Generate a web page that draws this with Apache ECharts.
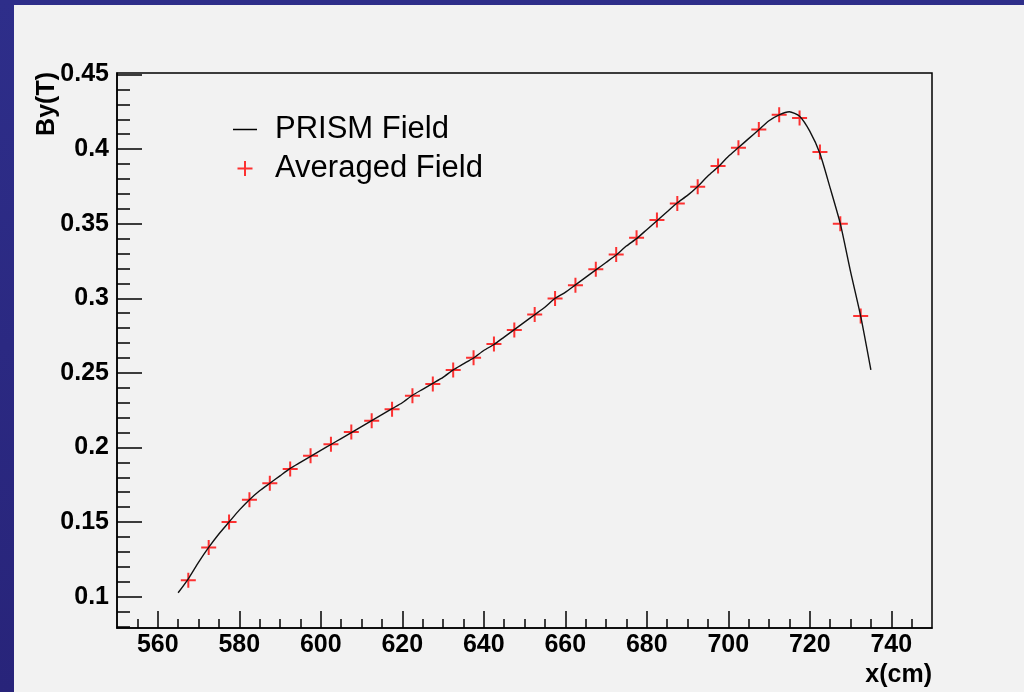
<!DOCTYPE html>
<html>
<head>
<meta charset="utf-8">
<title>PRISM Field</title>
<script src="https://cdn.jsdelivr.net/npm/echarts@6/dist/echarts.min.js"></script>
<style>
  html, body { margin: 0; padding: 0; width: 1024px; height: 692px; overflow: hidden; }
  body { background: linear-gradient(#2e2e8a, #28247a); position: relative; }
  #chart { position: absolute; left: 14px; top: 5px; width: 1010px; height: 687px; }
</style>
</head>
<body>
<div id="chart"></div>
<script>
// Field map along x: continuous PRISM field (By in tesla vs x in cm)
const fieldX = [565, 567.5, 570, 572.5, 575, 577.5, 580, 582.5, 585, 587.5, 590, 592.5, 595, 597.5,
  600, 602.5, 605, 607.5, 610, 612.5, 615, 617.5, 620, 622.5, 625, 627.5, 630, 632.5, 635, 637.5,
  640, 642.5, 645, 647.5, 650, 652.5, 655, 657.5, 660, 662.5, 665, 667.5, 670, 672.5, 675, 677.5,
  680, 682.5, 685, 687.5, 690, 692.5, 695, 697.5, 700, 702.5, 705, 707.5, 710, 712.5, 715, 717.5,
  720, 722.5, 725, 727.5, 730, 732.5, 735];
const fieldBy = [0.1026, 0.112, 0.123, 0.133, 0.142, 0.150, 0.158, 0.165, 0.171, 0.176, 0.181, 0.186, 0.190, 0.194,
  0.198, 0.202, 0.206, 0.210, 0.214, 0.218, 0.222, 0.226, 0.230, 0.235, 0.239, 0.243, 0.247, 0.252, 0.256, 0.260,
  0.265, 0.269, 0.274, 0.279, 0.284, 0.289, 0.294, 0.300, 0.304, 0.309, 0.314, 0.319, 0.324, 0.329, 0.335, 0.340,
  0.346, 0.352, 0.358, 0.364, 0.369, 0.375, 0.382, 0.388, 0.395, 0.401, 0.407, 0.413, 0.419, 0.423, 0.425, 0.422,
  0.412, 0.397, 0.374, 0.350, 0.318, 0.288, 0.252];

// Averaged field, one value per 5 cm bin
const avgX = [567.5, 572.5, 577.5, 582.5, 587.5, 592.5, 597.5, 602.5, 607.5, 612.5, 617.5, 622.5,
  627.5, 632.5, 637.5, 642.5, 647.5, 652.5, 657.5, 662.5, 667.5, 672.5, 677.5, 682.5, 687.5, 692.5,
  697.5, 702.5, 707.5, 712.5, 717.5, 722.5, 727.5, 732.5];
const avgBy = [0.111, 0.133, 0.150, 0.165, 0.176, 0.1855, 0.1944, 0.2021, 0.2103, 0.2179, 0.2257, 0.2347,
  0.2425, 0.2519, 0.2601, 0.2693, 0.2787, 0.2892, 0.2999, 0.3088, 0.3194, 0.3294, 0.3406, 0.3524, 0.3636, 0.3747,
  0.3886, 0.4009, 0.4132, 0.423, 0.4208, 0.398, 0.350, 0.2881];

// Axis ticks
const xMajorTicks = [560, 580, 600, 620, 640, 660, 680, 700, 720, 740];
const xMinorTicks = [555, 560, 565, 570, 575, 580, 585, 590, 595, 600, 605, 610, 615, 620, 625, 630, 635,
  640, 645, 650, 655, 660, 665, 670, 675, 680, 685, 690, 695, 700, 705, 710, 715, 720, 725, 730, 735, 740, 745];
const yMajorTicks = [0.1, 0.15, 0.2, 0.25, 0.3, 0.35, 0.4, 0.45];
const yMinorTicks = [0.08, 0.09, 0.1, 0.11, 0.12, 0.13, 0.14, 0.15, 0.16, 0.17, 0.18, 0.19, 0.2, 0.21, 0.22,
  0.23, 0.24, 0.25, 0.26, 0.27, 0.28, 0.29, 0.3, 0.31, 0.32, 0.33, 0.34, 0.35, 0.36, 0.37, 0.38, 0.39, 0.4,
  0.41, 0.42, 0.43, 0.44, 0.45];

const X_MIN = 550, X_MAX = 750, Y_MIN = 0.079, Y_MAX = 0.451;
const FONT = '"Liberation Sans", Arial, Helvetica, sans-serif';
const PLUS = 'path://M0,6.5H15V8.5H0Z M6.5,0H8.5V15H6.5Z';
const DASH = 'path://M0,0H24V1.5H0Z';

const GRID = { left: 103, top: 68, width: 815, height: 555 };

const chart = echarts.init(document.getElementById('chart'), null, { renderer: 'canvas' });

chart.setOption({
  animation: false,
  backgroundColor: '#f2f2f2',
  grid: {
    left: GRID.left, top: GRID.top, width: GRID.width, height: GRID.height,
    outerBoundsMode: 'none', containLabel: false,
    show: true, borderColor: '#000', borderWidth: 1.5, backgroundColor: 'transparent'
  },
  legend: {
    orient: 'vertical', left: 214, top: 104,
    itemWidth: 24, itemHeight: 15, itemGap: 8,
    selectedMode: false,
    textStyle: { fontFamily: FONT, fontSize: 31, color: '#000', padding: [0, 0, 0, 13] },
    data: [
      { name: 'PRISM Field', icon: DASH },
      { name: 'Averaged Field', icon: PLUS }
    ]
  },
  xAxis: [
    {
      type: 'value', min: X_MIN, max: X_MAX, position: 'bottom',
      name: 'x(cm)', nameLocation: 'end', nameGap: 0, nameMoveOverlap: false,
      nameTextStyle: { fontFamily: FONT, fontSize: 25, fontWeight: 'bold', color: '#000',
        align: 'right', verticalAlign: 'top', padding: [35, 0, 0, 0] },
      axisLine: { show: true, lineStyle: { color: '#000', width: 1.5 } },
      axisTick: { show: true, inside: true, length: 17, customValues: xMajorTicks,
        lineStyle: { color: '#000', width: 1.5 } },
      axisLabel: { show: true, customValues: xMajorTicks, margin: 5,
        fontFamily: FONT, fontSize: 25, fontWeight: 'bold', color: '#000' },
      splitLine: { show: false }
    },
    {
      // short ticks every 5 cm, mirrored down onto the bottom edge
      type: 'value', min: X_MIN, max: X_MAX, position: 'top', offset: -GRID.height,
      axisLine: { show: false },
      axisTick: { show: true, inside: false, length: 9, customValues: xMinorTicks,
        lineStyle: { color: '#000', width: 1.5 } },
      axisLabel: { show: false },
      splitLine: { show: false }
    }
  ],
  yAxis: [
    {
      type: 'value', min: Y_MIN, max: Y_MAX, position: 'left',
      name: 'By(T)', nameLocation: 'end', nameGap: 1, nameRotate: 90, nameMoveOverlap: false,
      nameTextStyle: { fontFamily: FONT, fontSize: 25, fontWeight: 'bold', color: '#000',
        align: 'right', verticalAlign: 'bottom', padding: [0, 0, 57, 0] },
      axisLine: { show: true, lineStyle: { color: '#000', width: 1.5 } },
      axisTick: { show: true, inside: true, length: 25, customValues: yMajorTicks,
        lineStyle: { color: '#000', width: 1.5 } },
      axisLabel: { show: true, customValues: yMajorTicks, margin: 8,
        fontFamily: FONT, fontSize: 25, fontWeight: 'bold', color: '#000' },
      splitLine: { show: false }
    },
    {
      // short ticks every 0.01 T, mirrored onto the left edge
      type: 'value', min: Y_MIN, max: Y_MAX, position: 'right', offset: -GRID.width,
      axisLine: { show: false },
      axisTick: { show: true, inside: false, length: 13, customValues: yMinorTicks,
        lineStyle: { color: '#000', width: 1.5 } },
      axisLabel: { show: false },
      splitLine: { show: false }
    }
  ],
  series: [
    {
      name: 'Averaged Field', type: 'scatter', xAxisIndex: 0, yAxisIndex: 0,
      symbol: PLUS, symbolSize: 15,
      itemStyle: { color: '#ff0000' },
      data: avgX.map((x, i) => [x, avgBy[i]]),
      z: 2
    },
    {
      name: 'PRISM Field', type: 'line', xAxisIndex: 0, yAxisIndex: 0,
      showSymbol: false, symbol: 'none', color: '#000', smooth: 0.2,
      lineStyle: { color: '#111', width: 1.4 },
      data: fieldX.map((x, i) => [x, fieldBy[i]]),
      z: 3
    }
  ]
});
</script>
</body>
</html>
